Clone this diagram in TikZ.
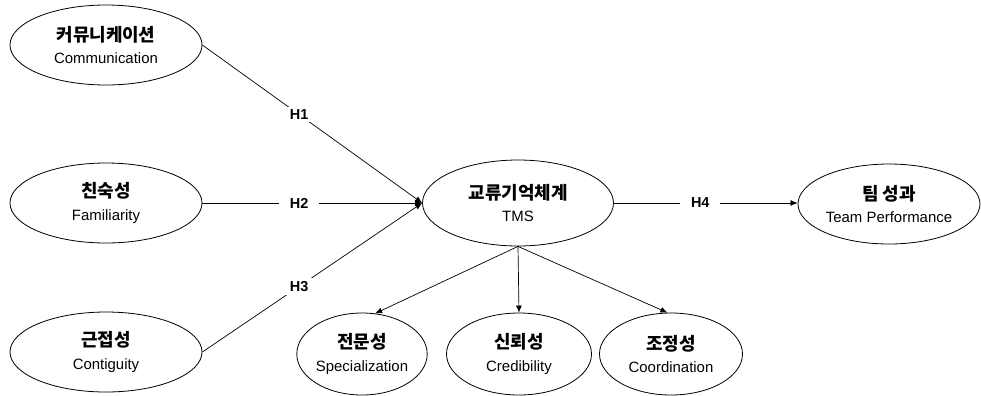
\documentclass[tikz,border=0pt]{standalone}
\usepackage{fontspec}
\setmainfont{Liberation Sans}
\newfontfamily\kr{Noto Sans CJK KR}
\usetikzlibrary{shapes.geometric,arrows.meta}
\newcommand{\kt}[1]{{\kr\bfseries\fontsize{18}{23}\selectfont #1}}
\tikzset{
  ent/.style={ellipse, draw, line width=0.8bp, inner sep=0pt, align=center,
    font=\fontsize{15}{23}\selectfont},
  hyp/.style={fill=white, font=\bfseries\fontsize{14.5}{14.5}\selectfont, inner xsep=11bp, inner ysep=3bp},
  link/.style={line width=0.7bp},
  arr/.style={link, -{Latex[length=7bp,width=6bp]}}
}
\begin{document}
\begin{tikzpicture}[x=1bp,y=-1bp]
\useasboundingbox (0,0) rectangle (981,395);
\node[ent, minimum width=192bp, minimum height=80bp] (comm) at (106,45) {\kt{커뮤니케이션}\\Communication};
\node[ent, minimum width=192bp, minimum height=80bp] (fam) at (106,203) {\kt{친숙성}\\Familiarity};
\node[ent, minimum width=192bp, minimum height=80bp] (cont) at (106,352) {\kt{근접성}\\Contiguity};
\node[ent, minimum width=191bp, minimum height=86bp] (tms) at (518,203) {\kt{교류기억체계}\\TMS};
\node[ent, minimum width=182bp, minimum height=80bp] (team) at (889,204) {\kt{팀 성과}\\Team Performance};
\node[ent, minimum width=130bp, minimum height=82bp] (spec) at (362,354) {\kt{전문성}\\Specialization};
\node[ent, minimum width=145bp, minimum height=82bp] (cred) at (519,354) {\kt{신뢰성}\\Credibility};
\node[ent, minimum width=143bp, minimum height=82bp] (coord) at (671,354) {\kt{조정성}\\Coordination};

\draw[arr] (comm.east) -- node[hyp, pos=0.44] (h1) {H1} (tms.west);
\draw[arr] (fam.east) -- node[hyp, pos=0.44] (h2) {H2} (tms.west);
\draw[arr] (cont.east) -- node[hyp, pos=0.44] (h3) {H3} (tms.west);
\draw[arr] (tms.east) -- node[hyp, pos=0.47] (h4) {H4} (tms.east -| team.west);

\draw[arr] (tms.south) -- (spec.72);
\draw[arr] (tms.south) -- (cred.north);
\draw[arr] (tms.south) -- (coord.95);
\end{tikzpicture}
\end{document}
